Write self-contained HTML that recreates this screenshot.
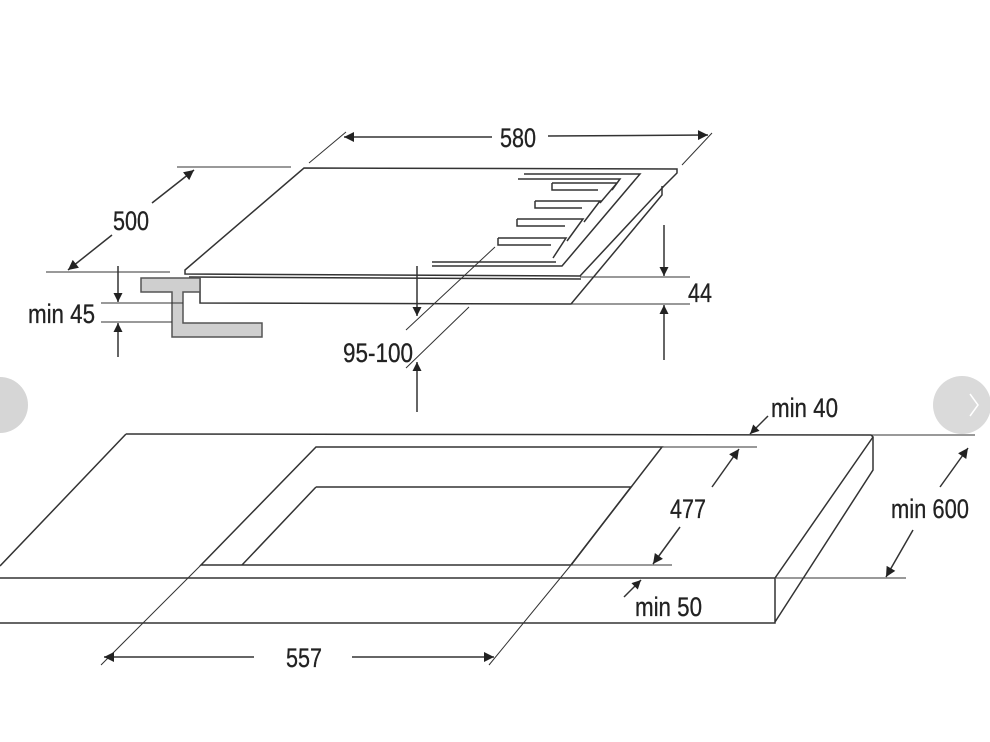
<!DOCTYPE html>
<html><head><meta charset="utf-8"><style>
html,body{margin:0;padding:0;background:#fff;}
svg{display:block;}
text{font-family:"Liberation Sans",sans-serif;font-size:27px;fill:#222;stroke:#222;stroke-width:0.3;}
</style></head><body>
<svg width="990" height="742" viewBox="0 0 990 742" xmlns="http://www.w3.org/2000/svg">
<defs>
<marker id="a" viewBox="0 0 10 10" refX="10" refY="5" markerWidth="16" markerHeight="9" markerUnits="userSpaceOnUse" orient="auto-start-reverse"><path d="M0,0 L10,5 L0,10z" fill="#222"/></marker>
<marker id="b" viewBox="0 0 10 10" refX="10" refY="5" markerWidth="28" markerHeight="10" markerUnits="userSpaceOnUse" orient="auto-start-reverse"><path d="M0,0 L10,5 L0,10z" fill="#222"/></marker>
</defs>
<g stroke="#333" stroke-width="1.5" fill="none">
<!-- hob -->
<path d="M304,168 L677,169 L677,173 L664,186 L580,276 L185,274 L185,270 Z" fill="#fff"/>
<path d="M189,277 L581,279"/>
<path d="M200,278 L200,303 L571,304 L662,195 L662,186"/>
<!-- controls trough -->
<path d="M524,174 L640,174 L562,266 L432,266"/>
<path d="M432,262 L556,262"/>
<path d="M518,179 L620,179 L612,190 M552,183 L617,183 L600,203 M552,183 L552,190 L598,190"/>
<path d="M535,201 L600,201 L584,222 M535,201 L535,208 L582,208"/>
<path d="M517,219 L583,219 L567,241 M517,219 L517,226 L565,226"/>
<path d="M498,238 L566,238 L553,258 M498,238 L498,245 L551,245"/>
<!-- bracket -->
<path d="M141,278 L200,278 L200,292 L183,292 L183,323 L262,323 L262,337 L172,337 L172,292 L141,292 Z" fill="#cfcfcf" stroke="#555"/>
<!-- 580 -->
<path d="M346,132 L309,163 M712,133 L682,165" stroke-width="1"/>
<path d="M344,137 L492,137" marker-start="url(#b)"/>
<path d="M548,136 L708,135" marker-end="url(#b)"/>
<!-- 500 -->
<path d="M177,167 L291,167 M46,272 L170,272" stroke-width="1"/>
<path d="M68,270 L112,235" marker-start="url(#b)"/>
<path d="M152,203 L194,170" marker-end="url(#b)"/>
<!-- min 45 -->
<path d="M101,303 L183,303 M101,322 L172,322" stroke-width="1"/>
<path d="M118,266 L118,302" marker-end="url(#a)"/>
<path d="M118,357 L118,323" marker-end="url(#a)"/>
<!-- 44 -->
<path d="M580,277 L690,277 M571,304 L690,304" stroke-width="1"/>
<path d="M664,225 L664,276" marker-end="url(#a)"/>
<path d="M664,360 L664,305" marker-end="url(#a)"/>
<!-- 95-100 -->
<path d="M406,330 L495,247 M406,368 L469,307" stroke-width="1"/>
<path d="M417,266 L417,316" marker-end="url(#a)"/>
<path d="M417,412 L417,362" marker-end="url(#a)"/>
<!-- counter -->
<path d="M126,434 L871,435 L873,437 L775,578 L0,578 M126,434 L0,566"/>
<path d="M0,623 L775,623 L775,578 M873,437 L873,470 L775,622"/>
<path d="M316,447 L662,447 L571,565 L201,565 Z"/>
<path d="M316,487 L631,487 L571,565 M316,487 L242,565"/>
<path d="M662,447 L757,447 M571,565 L672,565 M871,435 L975,435 M776,578 L906,578" stroke-width="1"/>
<!-- 557 -->
<path d="M101,665 L201,565 M489,665 L571,565" stroke-width="1"/>
<path d="M104,657 L254,657" marker-start="url(#b)"/>
<path d="M352,657 L494,657" marker-end="url(#b)"/>
<!-- 477 -->
<path d="M712,487 L739,449" marker-end="url(#b)"/>
<path d="M680,527 L653,564" marker-end="url(#b)"/>
<!-- min 600 -->
<path d="M940,487 L968,448" marker-end="url(#b)"/>
<path d="M913,530 L886,577" marker-end="url(#b)"/>
<!-- min 40 -->
<path d="M768,416 L750,434" marker-end="url(#a)"/>
<!-- min 50 -->
<path d="M624,597 L641,580" marker-end="url(#a)"/>
</g>
<g>
<text x="500" y="147" textLength="36" lengthAdjust="spacingAndGlyphs">580</text>
<text x="113" y="230" textLength="36" lengthAdjust="spacingAndGlyphs">500</text>
<text x="28" y="323" textLength="67" lengthAdjust="spacingAndGlyphs">min 45</text>
<text x="688" y="302" textLength="24" lengthAdjust="spacingAndGlyphs">44</text>
<text x="343" y="362" textLength="70" lengthAdjust="spacingAndGlyphs">95-100</text>
<text x="771" y="417" textLength="67" lengthAdjust="spacingAndGlyphs">min 40</text>
<text x="670" y="518" textLength="36" lengthAdjust="spacingAndGlyphs">477</text>
<text x="891" y="518" textLength="78" lengthAdjust="spacingAndGlyphs">min 600</text>
<text x="635" y="616" textLength="67" lengthAdjust="spacingAndGlyphs">min 50</text>
<text x="286" y="667" textLength="36" lengthAdjust="spacingAndGlyphs">557</text>
</g>
<circle cx="0" cy="405" r="28" fill="#d6d6d6"/>
<circle cx="962" cy="405" r="29" fill="#d6d6d6" opacity="0.9"/>
<path d="M970,394 L978,405 L970,416" stroke="#fff" stroke-width="1.5" fill="none"/>
</svg>
</body></html>
